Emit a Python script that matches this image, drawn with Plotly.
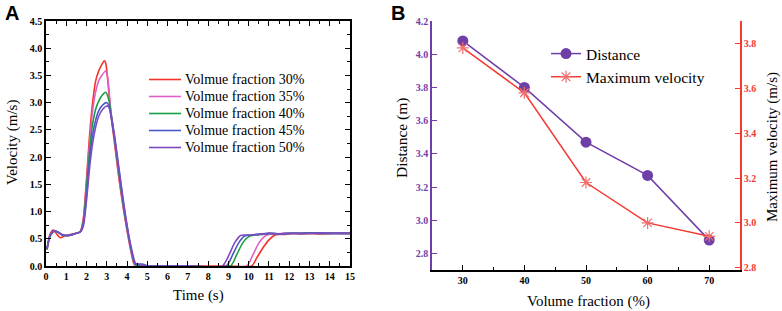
import plotly.graph_objects as go

# ---------------- Panel A data ----------------
t30 = [0.05,0.2,0.35,0.5,0.7,0.9,1.2,1.5,1.7,1.85,2.0,2.15,2.3,2.45,2.6,2.75,2.88,2.95,3.05,3.2,3.4,3.6,3.8,4.0,4.2,4.35,4.5,4.7,4.9,5.2,7.0,9.0,10.15,10.4,10.7,11.0,11.3,11.5,11.8,12.2,12.6,13.0,13.5,14.0,14.5,15.0]
v30 = [0.3,0.58,0.66,0.6,0.52,0.55,0.58,0.6,0.64,0.9,1.6,2.4,3.0,3.4,3.58,3.7,3.77,3.72,3.4,2.8,2.2,1.6,1.1,0.65,0.25,0.03,0.0,0.02,0.0,0.0,0.0,0.0,0.0,0.15,0.33,0.48,0.57,0.58,0.58,0.6,0.59,0.6,0.59,0.6,0.6,0.6]

t35 = [0.05,0.2,0.4,0.6,0.8,1.1,1.4,1.7,1.85,2.0,2.15,2.3,2.45,2.6,2.75,2.95,3.05,3.2,3.4,3.6,3.8,4.0,4.2,4.37,4.5,4.7,4.9,7.0,9.9,10.2,10.5,10.8,11.0,11.3,11.7,12.2,12.7,13.2,13.8,14.4,15.0]
v35 = [0.3,0.55,0.64,0.62,0.57,0.56,0.59,0.63,0.85,1.5,2.25,2.85,3.2,3.4,3.5,3.58,3.45,2.85,2.25,1.65,1.12,0.67,0.27,0.03,0.0,0.02,0.0,0.0,0.0,0.2,0.42,0.55,0.58,0.59,0.6,0.59,0.6,0.61,0.6,0.6,0.6]

t40 = [0.05,0.2,0.4,0.6,0.8,1.1,1.4,1.7,1.85,2.0,2.15,2.3,2.45,2.6,2.8,2.95,3.1,3.25,3.4,3.6,3.8,4.0,4.2,4.38,4.5,4.7,5.0,7.0,9.1,9.4,9.7,10.0,10.3,10.7,11.0,11.5,12.0,12.5,13.0,13.5,14.0,14.5,15.0]
v40 = [0.3,0.55,0.64,0.62,0.57,0.56,0.59,0.63,0.82,1.45,2.1,2.6,2.88,3.03,3.15,3.19,3.05,2.7,2.3,1.7,1.15,0.7,0.3,0.04,0.01,0.03,0.0,0.0,0.0,0.2,0.42,0.54,0.57,0.58,0.6,0.59,0.6,0.6,0.61,0.6,0.6,0.6,0.6]

t45 = [0.05,0.2,0.4,0.6,0.8,1.1,1.4,1.7,1.85,2.0,2.15,2.3,2.45,2.6,2.8,3.0,3.1,3.25,3.4,3.6,3.8,4.0,4.2,4.4,4.6,4.8,5.0,7.0,8.9,9.2,9.5,9.8,10.1,10.5,11.0,11.5,12.0,12.5,13.0,13.5,14.0,14.5,15.0]
v45 = [0.32,0.56,0.65,0.62,0.57,0.56,0.59,0.63,0.78,1.3,1.95,2.4,2.68,2.85,2.96,3.0,2.95,2.65,2.3,1.75,1.2,0.72,0.32,0.04,0.03,0.03,0.0,0.0,0.0,0.2,0.42,0.55,0.57,0.58,0.6,0.59,0.6,0.6,0.6,0.61,0.6,0.6,0.6]

t50 = [0.05,0.2,0.4,0.6,0.8,1.1,1.4,1.7,1.85,2.0,2.15,2.3,2.45,2.6,2.8,3.0,3.1,3.25,3.4,3.6,3.8,4.0,4.2,4.42,4.6,4.8,5.0,7.0,8.7,9.0,9.3,9.6,9.8,10.2,10.6,11.0,11.5,12.0,12.5,13.0,13.5,14.0,14.5,15.0]
v50 = [0.32,0.57,0.65,0.62,0.58,0.56,0.59,0.63,0.75,1.2,1.8,2.25,2.55,2.75,2.88,2.94,2.92,2.7,2.35,1.8,1.25,0.75,0.35,0.05,0.03,0.02,0.0,0.0,0.0,0.18,0.42,0.56,0.57,0.57,0.59,0.6,0.59,0.6,0.6,0.6,0.6,0.6,0.6,0.6]

names_a = ["Volmue fraction 30%", "Volmue fraction 35%", "Volmue fraction 40%",
           "Volmue fraction 45%", "Volmue fraction 50%"]
colors_a = ["#f5332b", "#e060c8", "#17a042", "#4a58c8", "#7c4cc0"]

# ---------------- Panel B data ----------------
vol_frac = [30, 40, 50, 60, 70]
distance = [4.08, 3.80, 3.47, 3.27, 2.88]
max_vel = [3.78, 3.58, 3.18, 3.00, 2.94]

W, H = 782, 311
def px_x(p): return p / W
def px_y(p): return (H - p) / H

fig = go.Figure()

series = [(t30, v30), (t35, v35), (t40, v40), (t45, v45), (t50, v50)]
for (t, v), nm, c in zip(series, names_a, colors_a):
    fig.add_trace(go.Scatter(x=t, y=v, mode="lines", name=nm, showlegend=False,
                             line=dict(color=c, width=1.6, shape="spline", smoothing=0.6),
                             xaxis="x", yaxis="y"))

PURPLE = "#6f3fa8"
RED = "#f23a32"
fig.add_trace(go.Scatter(x=vol_frac, y=distance, mode="lines+markers", name="Distance",
                         line=dict(color=PURPLE, width=1.5),
                         marker=dict(symbol="circle", size=11, color=PURPLE),
                         xaxis="x2", yaxis="y2", legend="legend2"))
fig.add_trace(go.Scatter(x=vol_frac, y=max_vel, mode="lines+markers", name="Maximum velocity",
                         line=dict(color=RED, width=1.5),
                         marker=dict(symbol="asterisk-open", size=10, color="#f07070",
                                     line=dict(color="#f07070", width=1.2)),
                         xaxis="x2", yaxis="y3", legend="legend2"))

tickfont = dict(family="Liberation Serif", size=10, color="black", weight="bold")

# Panel A legend drawn as line samples + text (tighter row spacing than the default legend)
shapes = []
annotations = []
for i, (nm, c) in enumerate(zip(names_a, colors_a)):
    yy = px_y(79.5 + 17 * i)
    shapes.append(dict(type="line", xref="paper", yref="paper",
                       x0=px_x(149), x1=px_x(181), y0=yy, y1=yy,
                       line=dict(color=c, width=1.6)))
    annotations.append(dict(text=nm, x=px_x(183), y=yy, xref="paper", yref="paper",
                            xanchor="left", yanchor="middle", showarrow=False,
                            font=dict(family="Liberation Serif", size=14, color="black")))

def title_ann(text, x, y, angle=0, size=15):
    return dict(text=text, x=px_x(x), y=px_y(y), xref="paper", yref="paper",
                xanchor="center", yanchor="middle", showarrow=False, textangle=angle,
                font=dict(family="Liberation Serif", size=size, color="black"))

annotations += [
    dict(text="<b>A</b>", x=px_x(3), y=px_y(0), xref="paper", yref="paper",
         xanchor="left", yanchor="top", showarrow=False,
         font=dict(family="Liberation Sans", size=20, color="black")),
    dict(text="<b>B</b>", x=px_x(389), y=px_y(0), xref="paper", yref="paper",
         xanchor="left", yanchor="top", showarrow=False,
         font=dict(family="Liberation Sans", size=20, color="black")),
    title_ann("Time (s)", 198, 295),
    title_ann("Velocity (m/s)", 12, 143, -90),
    title_ann("Volume fraction (%)", 588, 301),
    title_ann("Distance (m)", 402, 138, -90, 15.5),
    title_ann("Maximum velocity (m/s)", 772, 147, -90),
]

fig.update_layout(
    width=W, height=H, margin=dict(l=0, r=0, t=0, b=0),
    paper_bgcolor="white", plot_bgcolor="white", showlegend=True,
    xaxis=dict(domain=[px_x(46), px_x(350)], range=[0, 15], dtick=1, tick0=0,
               showline=True, linecolor="black", linewidth=1.5, mirror="allticks",
               ticks="inside", ticklen=5, tickwidth=1.2, tickcolor="black",
               minor=dict(dtick=0.5, ticks="inside", ticklen=3, tickcolor="black"),
               showgrid=False, zeroline=False, tickfont=tickfont, automargin=False,
               anchor="y"),
    yaxis=dict(domain=[px_y(266), px_y(21)], range=[0, 4.5], dtick=0.5, tick0=0,
               tickformat=".1f",
               showline=True, linecolor="black", linewidth=1.5, mirror="allticks",
               ticks="inside", ticklen=5, tickwidth=1.2, tickcolor="black",
               minor=dict(dtick=0.25, ticks="inside", ticklen=3, tickcolor="black"),
               showgrid=False, zeroline=False, tickfont=tickfont, automargin=False,
               anchor="x"),
    xaxis2=dict(domain=[px_x(432), px_x(740)], range=[25, 75], dtick=10, tick0=30,
                showline=True, linecolor="black", linewidth=1.5,
                ticks="inside", ticklen=5, tickwidth=1.2, tickcolor="black",
                minor=dict(dtick=5, ticks="inside", ticklen=3, tickcolor="black"),
                showgrid=False, zeroline=False, tickfont=tickfont, automargin=False,
                anchor="y2"),
    yaxis2=dict(domain=[px_y(270), px_y(21)], range=[2.7, 4.2], dtick=0.2, tick0=2.8,
                tickformat=".1f",
                showline=True, linecolor=PURPLE, linewidth=1.5,
                ticks="inside", ticklen=5, tickwidth=1.2, tickcolor=PURPLE,
                showgrid=False, zeroline=False, automargin=False,
                tickfont=dict(family="Liberation Serif", size=10, color=PURPLE, weight="bold"),
                anchor="x2"),
    yaxis3=dict(domain=[px_y(270), px_y(21)], range=[2.79, 3.9], dtick=0.2, tick0=2.8,
                tickformat=".1f", overlaying="y2", side="right", anchor="x2",
                showline=True, linecolor=RED, linewidth=1.5,
                ticks="inside", ticklen=5, tickwidth=1.2, tickcolor=RED,
                showgrid=False, zeroline=False, automargin=False,
                tickfont=dict(family="Liberation Serif", size=10, color=RED, weight="bold")),
    legend2=dict(x=px_x(546), y=px_y(37), xanchor="left", yanchor="top",
                 bgcolor="rgba(0,0,0,0)", borderwidth=0,
                 font=dict(family="Liberation Serif", size=15.5, color="black")),
    shapes=shapes,
    annotations=annotations,
)

fig.write_html("out.html", config={"displayModeBar": False},
               post_script="document.body.style.margin='0px';document.body.style.overflow='hidden';")
